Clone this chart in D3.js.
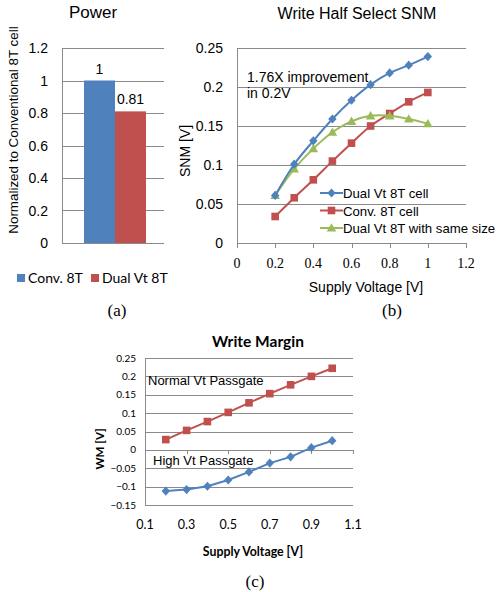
<!DOCTYPE html>
<html>
<head>
<meta charset="utf-8">
<script src="https://cdn.jsdelivr.net/npm/d3@7/dist/d3.min.js"></script>
<style>
  body { margin: 0; background: #fff; }
  svg text { fill: #000; }
</style>
</head>
<body>
<svg id="fig" width="503" height="592"></svg>
<script>
"use strict";

// (a) power
const powerCats = ["Conv. 8T", "Dual Vt 8T"];
const powerVals = [1, 0.81];
const powerTicks = [0, 0.2, 0.4, 0.6, 0.8, 1, 1.2];

// (b) write half select SNM
const snmVdd = [0.2, 0.3, 0.4, 0.5, 0.6, 0.7, 0.8, 0.9, 1.0];
const snmDual = [0.061, 0.101, 0.131, 0.159, 0.183, 0.203, 0.218, 0.228, 0.239];
const snmConv = [0.034, 0.058, 0.081, 0.105, 0.128, 0.150, 0.166, 0.181, 0.193];
const snmSame = [0.061, 0.095, 0.121, 0.142, 0.156, 0.163, 0.163, 0.159, 0.153];
const snmNames = ["Dual Vt 8T cell", "Conv. 8T cell", "Dual Vt 8T with same size"];
const snmXTicks = [0, 0.2, 0.4, 0.6, 0.8, 1, 1.2];
const snmYTicks = [0, 0.05, 0.1, 0.15, 0.2, 0.25];

// (c) write margin
const wmVdd = [0.2, 0.3, 0.4, 0.5, 0.6, 0.7, 0.8, 0.9, 1.0];
const wmNormal = [0.028, 0.053, 0.077, 0.102, 0.128, 0.153, 0.177, 0.200, 0.222];
const wmHigh = [-0.112, -0.108, -0.099, -0.082, -0.060, -0.036, -0.019, 0.006, 0.025];
const wmXTicks = [0.1, 0.3, 0.5, 0.7, 0.9, 1.1];
const wmYTicks = [-0.15, -0.1, -0.05, 0, 0.05, 0.1, 0.15, 0.2, 0.25];

const blue = "#4f81bd", red = "#c0504d", green = "#9bbb59";
const grid = "#8a8a8a";
const sans = "'Liberation Sans', Arial, sans-serif";
const serif = "'Liberation Serif', 'Times New Roman', serif";
const cal = "Lato, 'Open Sans', sans-serif";

const svg = d3.select("#fig");

function marker(g, shape, x, y, color, size) {
  if (shape === "diamond") {
    g.append("path")
      .attr("d", "M0,-4.6L4.2,0L0,4.6L-4.2,0Z")
      .attr("transform", `translate(${x},${y})`)
      .attr("fill", color);
  } else if (shape === "square") {
    g.append("rect").attr("x", x - 3.8).attr("y", y - 3.8)
      .attr("width", 7.6).attr("height", 7.6).attr("fill", color);
  } else {
    g.append("path")
      .attr("d", d3.symbol(d3.symbolTriangle, size)())
      .attr("transform", `translate(${x},${y + 0.8})`)
      .attr("fill", color);
  }
}

// ---------- panel (a) ----------
(function () {
  const g = svg.append("g");
  const y = d3.scaleLinear().domain([0, 1.2]).range([243, 48]);
  const x = d3.scaleBand().domain(powerCats).range([84, 146]).padding(0);
  const x0 = 62, x1 = 164;

  g.selectAll(".grid").data(powerTicks.filter(d => d > 0)).enter()
    .append("line")
    .attr("x1", x0).attr("x2", x1)
    .attr("y1", d => Math.round(y(d)) + 0.5).attr("y2", d => Math.round(y(d)) + 0.5)
    .attr("stroke", grid).attr("stroke-width", 1);

  g.selectAll(".bar").data(powerCats).enter().append("rect")
    .attr("x", d => x(d)).attr("width", x.bandwidth())
    .attr("y", (d, i) => y(powerVals[i]))
    .attr("height", (d, i) => y(0) - y(powerVals[i]))
    .attr("fill", (d, i) => i === 0 ? blue : red);

  g.append("line").attr("x1", x0 + 0.5).attr("x2", x0 + 0.5)
    .attr("y1", y(1.2)).attr("y2", y(0)).attr("stroke", grid);
  g.append("line").attr("x1", x0).attr("x2", x1)
    .attr("y1", y(0) + 0.5).attr("y2", y(0) + 0.5).attr("stroke", grid);

  g.selectAll(".tl").data(powerTicks).enter().append("text")
    .attr("x", 48).attr("y", d => y(d) + 5)
    .attr("text-anchor", "end")
    .style("font", `14px ${sans}`)
    .text(d => d3.format("~g")(d));

  g.selectAll(".vl").data(powerCats).enter().append("text")
    .attr("x", d => x(d) + x.bandwidth() / 2)
    .attr("y", (d, i) => y(powerVals[i]) - 7)
    .attr("text-anchor", "middle")
    .style("font", `14px ${sans}`)
    .text((d, i) => d3.format("~g")(powerVals[i]));

  g.append("text").attr("x", 93).attr("y", 18).attr("text-anchor", "middle")
    .style("font", `17px ${sans}`).text("Power");

  g.append("text")
    .attr("transform", "translate(18,130) rotate(-90)")
    .attr("text-anchor", "middle")
    .style("font", `13.4px ${sans}`)
    .text("Normalized to Conventional  8T cell");

  const leg = [[17, powerCats[0], blue], [91, powerCats[1], red]];
  leg.forEach(([lx, t, c]) => {
    g.append("rect").attr("x", lx).attr("y", 274).attr("width", 8).attr("height", 8).attr("fill", c);
    g.append("text").attr("x", lx + 11).attr("y", 283)
      .style("font", `14px ${cal}`).text(t);
  });

  g.append("text").attr("x", 117).attr("y", 316).attr("text-anchor", "middle")
    .style("font", `17px ${serif}`).text("(a)");
})();

// ---------- panel (b) ----------
(function () {
  const g = svg.append("g");
  const x = d3.scaleLinear().domain([0, 1.2]).range([237, 466]);
  const y = d3.scaleLinear().domain([0, 0.25]).range([243, 48]);

  g.selectAll(".grid").data(snmYTicks.filter(d => d > 0)).enter()
    .append("line")
    .attr("x1", x(0)).attr("x2", x(1.2))
    .attr("y1", d => Math.round(y(d)) + 0.5).attr("y2", d => Math.round(y(d)) + 0.5)
    .attr("stroke", grid);
  g.append("line").attr("x1", x(0) + 0.5).attr("x2", x(0) + 0.5)
    .attr("y1", y(0.25)).attr("y2", y(0)).attr("stroke", grid);
  g.append("line").attr("x1", x(0)).attr("x2", x(1.2))
    .attr("y1", y(0) + 0.5).attr("y2", y(0) + 0.5).attr("stroke", grid);
  g.selectAll(".tk").data(snmXTicks).enter().append("line")
    .attr("x1", d => Math.round(x(d)) + 0.5).attr("x2", d => Math.round(x(d)) + 0.5)
    .attr("y1", y(0)).attr("y2", y(0) + 5).attr("stroke", grid);

  g.selectAll(".yl").data(snmYTicks).enter().append("text")
    .attr("x", 223).attr("y", d => y(d) + 5)
    .attr("text-anchor", "end")
    .style("font", `14px ${sans}`)
    .text(d => d3.format("~g")(d));
  g.selectAll(".xl").data(snmXTicks).enter().append("text")
    .attr("x", d => x(d)).attr("y", 268)
    .attr("text-anchor", "middle")
    .style("font", `14px ${serif}`)
    .text(d => d3.format("~g")(d));

  const series = [
    [snmConv, red, "square"],
    [snmSame, green, "triangle"],
    [snmDual, blue, "diamond"]
  ];
  const line = d3.line().x((d, i) => x(snmVdd[i])).y(d => y(d))
    .curve(d3.curveCatmullRom.alpha(0.5));
  series.forEach(([vals, c, shape]) => {
    g.append("path").datum(vals).attr("d", line)
      .attr("fill", "none").attr("stroke", c).attr("stroke-width", 2);
    vals.forEach((v, i) => marker(g, shape, x(snmVdd[i]), y(v), c, 40));
  });

  const legRows = [[blue, "diamond"], [red, "square"], [green, "triangle"]];
  legRows.forEach(([c, shape], i) => {
    const ly = 193 + i * 17.5;
    g.append("line").attr("x1", 320).attr("x2", 343).attr("y1", ly).attr("y2", ly)
      .attr("stroke", c).attr("stroke-width", 2);
    marker(g, shape, 331.5, ly, c, 40);
    g.append("text").attr("x", 343).attr("y", ly + 5)
      .style("font", `13.2px ${sans}`).text(snmNames[i]);
  });

  g.append("text").attr("x", 247).attr("y", 82)
    .style("font", `14px ${sans}`).text("1.76X improvement");
  g.append("text").attr("x", 247).attr("y", 98)
    .style("font", `14px ${sans}`).text("in 0.2V");

  g.append("text").attr("x", 357).attr("y", 19).attr("text-anchor", "middle")
    .style("font", `16px ${sans}`).text("Write Half Select SNM");
  g.append("text")
    .attr("transform", "translate(190,151) rotate(-90)")
    .attr("text-anchor", "middle")
    .style("font", `14px ${sans}`).text("SNM [V]");
  g.append("text").attr("x", 366).attr("y", 292).attr("text-anchor", "middle")
    .style("font", `14px ${sans}`).text("Supply Voltage [V]");

  g.append("text").attr("x", 392).attr("y", 316).attr("text-anchor", "middle")
    .style("font", `17px ${serif}`).text("(b)");
})();

// ---------- panel (c) ----------
(function () {
  const g = svg.append("g");
  const x = d3.scaleLinear().domain([0.1, 1.1]).range([145, 353]);
  const y = d3.scaleLinear().domain([-0.15, 0.25]).range([505, 358]);

  g.selectAll(".grid").data(wmYTicks).enter()
    .append("line")
    .attr("x1", x(0.1)).attr("x2", x(1.1))
    .attr("y1", d => Math.round(y(d)) + 0.5).attr("y2", d => Math.round(y(d)) + 0.5)
    .attr("stroke", grid);
  g.append("line").attr("x1", x(0.1) + 0.5).attr("x2", x(0.1) + 0.5)
    .attr("y1", y(0.25)).attr("y2", y(-0.15)).attr("stroke", grid);
  g.selectAll(".tk").data(wmXTicks).enter().append("line")
    .attr("x1", d => Math.round(x(d)) + 0.5).attr("x2", d => Math.round(x(d)) + 0.5)
    .attr("y1", Math.round(y(0))).attr("y2", Math.round(y(0)) + 4).attr("stroke", grid);

  g.selectAll(".yl").data(wmYTicks).enter().append("text")
    .attr("x", 136).attr("y", d => y(d) + 3.5)
    .attr("text-anchor", "end")
    .style("font", `10px ${cal}`)
    .text(d => d3.format("~g")(d));
  g.selectAll(".xl").data(wmXTicks).enter().append("text")
    .attr("x", d => x(d)).attr("y", 529)
    .attr("text-anchor", "middle")
    .style("font", `12.5px ${cal}`)
    .text(d => d3.format("~g")(d));

  const line = d3.line().x((d, i) => x(wmVdd[i])).y(d => y(d));
  [[wmNormal, red, "square"], [wmHigh, blue, "diamond"]].forEach(([vals, c, shape]) => {
    g.append("path").datum(vals).attr("d", line)
      .attr("fill", "none").attr("stroke", c).attr("stroke-width", 2);
    vals.forEach((v, i) => marker(g, shape, x(wmVdd[i]), y(v), c, 36));
  });

  g.append("text").attr("x", 148).attr("y", 385)
    .style("font", `13px ${sans}`).text("Normal Vt Passgate");
  g.append("text").attr("x", 153).attr("y", 465)
    .style("font", `13px ${sans}`).text("High Vt Passgate");

  g.append("text").attr("x", 258).attr("y", 347).attr("text-anchor", "middle")
    .style("font", `bold 15.5px ${cal}`).text("Write Margin");
  g.append("text")
    .attr("transform", "translate(104,449) rotate(-90)")
    .attr("text-anchor", "middle")
    .style("font", `bold 11.5px ${cal}`).text("WM [V]");
  g.append("text").attr("x", 253).attr("y", 556).attr("text-anchor", "middle")
    .style("font", `bold 12.3px ${cal}`).text("Supply Voltage [V]");

  g.append("text").attr("x", 255).attr("y", 587).attr("text-anchor", "middle")
    .style("font", `17px ${serif}`).text("(c)");
})();
</script>
</body>
</html>
